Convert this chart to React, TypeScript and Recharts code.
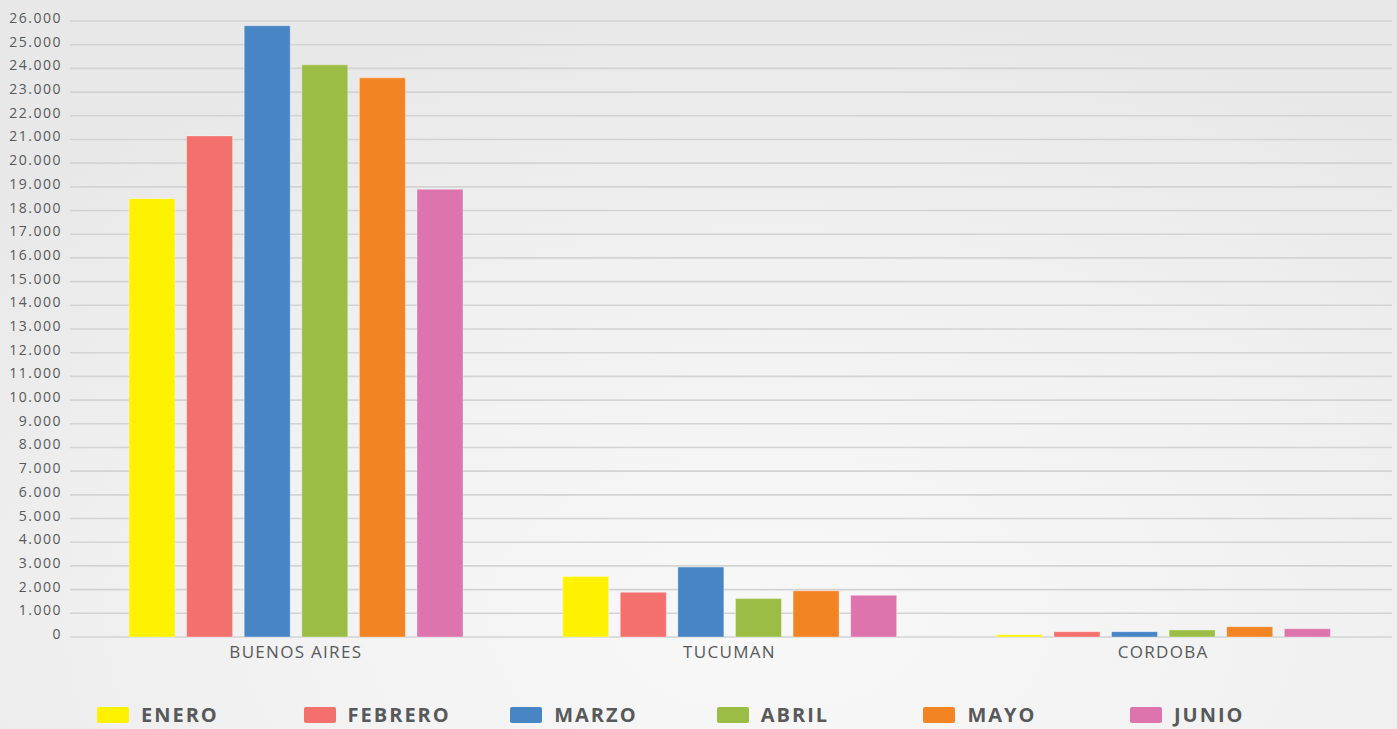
import { BarChart, Bar, XAxis, YAxis, CartesianGrid, Legend } from "recharts";

// provincias (categorias del eje x)
const provincias = ["BUENOS AIRES", "TUCUMAN", "CORDOBA"];

// valores por mes, en el mismo orden que provincias
const enero = [18500, 2550, 100];
const febrero = [21150, 1890, 225];
const marzo = [25800, 2950, 225];
const abril = [24150, 1620, 295];
const mayo = [23600, 1950, 435];
const junio = [18900, 1760, 350];

const meses = ["ENERO", "FEBRERO", "MARZO", "ABRIL", "MAYO", "JUNIO"];
const colores = ["#FFF200", "#F4706C", "#4785C4", "#9BBD45", "#F38423", "#DE74AD"];

const yTicks = [
  0, 1000, 2000, 3000, 4000, 5000, 6000, 7000, 8000, 9000, 10000, 11000, 12000,
  13000, 14000, 15000, 16000, 17000, 18000, 19000, 20000, 21000, 22000, 23000,
  24000, 25000, 26000,
];

const series = [enero, febrero, marzo, abril, mayo, junio];

const data = provincias.map((name, i) => {
  const row: any = { name };
  meses.forEach((m, j) => {
    row[m] = series[j][i];
  });
  return row;
});

function formatMiles(v: number) {
  return String(v).replace(/\B(?=(\d{3})+(?!\d))/g, ".");
}

function LeyendaMeses() {
  return (
    <div style={{ display: "flex", height: 30, paddingLeft: 97 }}>
      {meses.map((m, i) => (
        <div
          key={m}
          style={{ width: 206.6, display: "flex", alignItems: "center", flexShrink: 0 }}
        >
          <span
            style={{
              display: "inline-block",
              width: 32,
              height: 16,
              borderRadius: 2,
              background: colores[i],
              marginRight: 12,
            }}
          />
          <span
            style={{
              fontFamily: "'Open Sans', sans-serif",
              fontWeight: 700,
              fontSize: 20,
              lineHeight: "20px",
              letterSpacing: 2,
              color: "#58595B",
            }}
          >
            {m}
          </span>
        </div>
      ))}
    </div>
  );
}

export default function App() {
  return (
    <div
      style={{
        position: "absolute",
        left: 0,
        top: 0,
        width: 1397,
        height: 729,
        overflow: "hidden",
        fontFamily: "'Open Sans', sans-serif",
        background:
          "radial-gradient(ellipse 75% 85% at 55% 85%, #f8f8f8 0%, #f1f1f1 55%, #e8e8e8 100%)",
      }}
    >
      <BarChart
        width={1397}
        height={729}
        data={data}
        margin={{ top: 21, right: 5, bottom: 32, left: 0 }}
        barSize={46}
        barGap={11.6}
      >
        <CartesianGrid vertical={false} stroke="#d3d3d3" strokeWidth={1.6} />
        <XAxis
          dataKey="name"
          axisLine={false}
          tickLine={false}
          tickSize={0}
          tickMargin={9}
          height={30}
          interval={0}
          padding={{ left: 9, right: 12 }}
          tick={{ fill: "#58595B", fontSize: 17, letterSpacing: 1.3 }}
        />
        <YAxis
          width={70}
          domain={[0, 26000]}
          ticks={yTicks}
          interval={0}
          axisLine={false}
          tickLine={false}
          tickSize={0}
          tickMargin={8}
          tickFormatter={formatMiles}
          tick={{ fill: "#58595B", fontSize: 14, letterSpacing: 1.5, dy: -3 }}
        />
        <Legend
          verticalAlign="bottom"
          content={() => <LeyendaMeses />}
          wrapperStyle={{ top: 700, bottom: "auto", left: 0, width: 1397 }}
        />
        {meses.map((m, i) => (
          <Bar
            key={m}
            dataKey={m}
            fill={colores[i]}
            stroke="rgba(255,255,255,0.35)"
            strokeWidth={1}
            isAnimationActive={false}
          />
        ))}
      </BarChart>
    </div>
  );
}
